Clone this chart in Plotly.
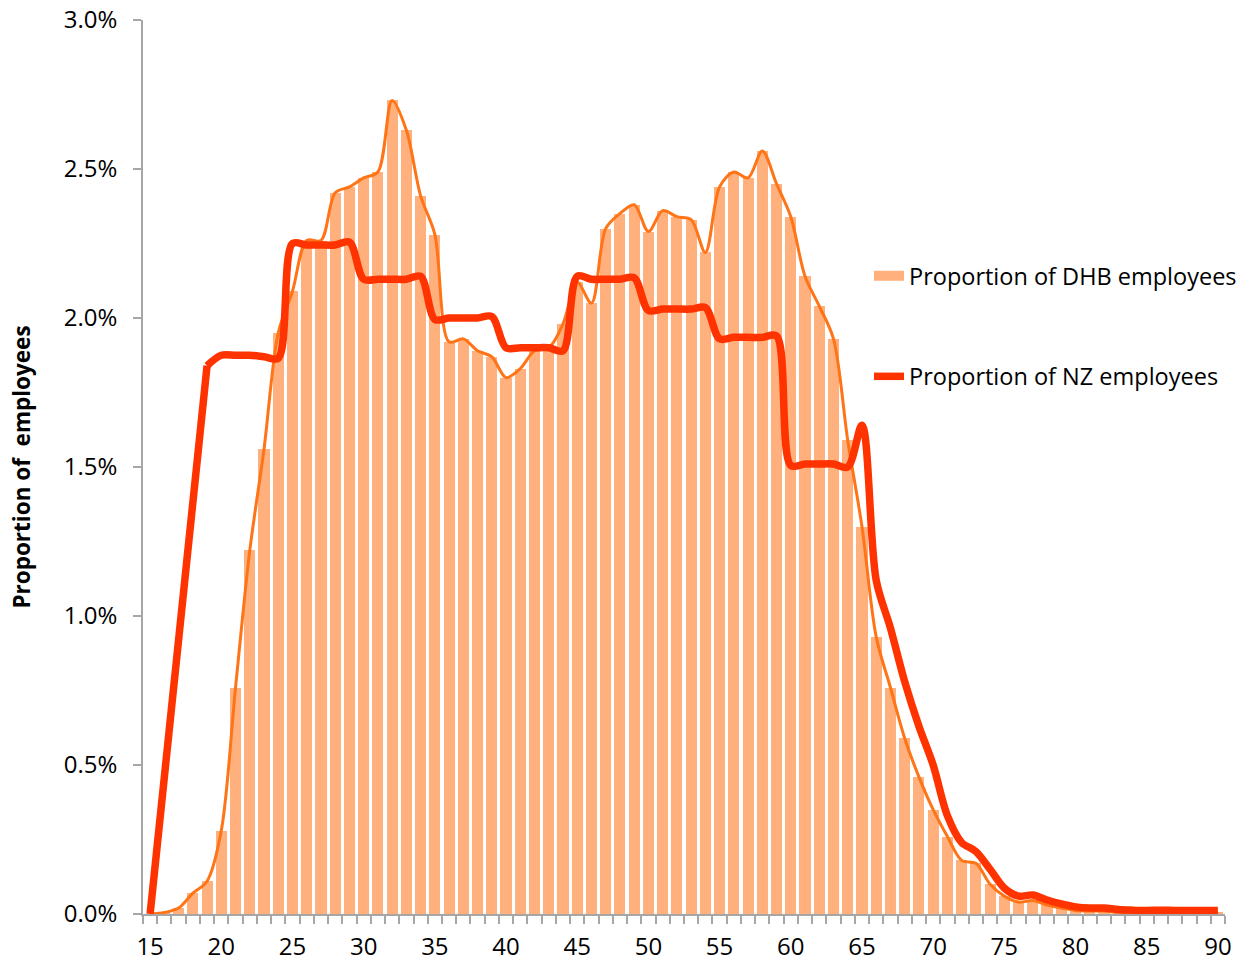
import plotly.graph_objects as go

ages = list(range(15, 91))

dhb_pct = [
    0.0, 0.005, 0.02, 0.07, 0.11, 0.28, 0.76, 1.22, 1.56, 1.95,      # 15-24
    2.09, 2.26, 2.26, 2.42, 2.44, 2.47, 2.49, 2.73, 2.63, 2.41,      # 25-34
    2.28, 1.92, 1.93, 1.89, 1.87, 1.80, 1.83, 1.89, 1.90, 1.98,      # 35-44
    2.12, 2.05, 2.30, 2.35, 2.38, 2.29, 2.36, 2.34, 2.33, 2.22,      # 45-54
    2.44, 2.49, 2.47, 2.56, 2.45, 2.34, 2.14, 2.04, 1.93, 1.59,      # 55-64
    1.30, 0.93, 0.76, 0.59, 0.46, 0.35, 0.26, 0.18, 0.17, 0.10,      # 65-74
    0.06, 0.04, 0.045, 0.03, 0.02, 0.012, 0.01, 0.01, 0.006, 0.005,  # 75-84
    0.005, 0.006, 0.004, 0.004, 0.004, 0.004,                        # 85-90
]

nz_pct = [
    0.0, None, None, None, 1.84, 1.875, 1.875, 1.875, 1.87, 1.865,   # 15-24
    2.25, 2.245, 2.245, 2.245, 2.255, 2.13, 2.13, 2.13, 2.13, 2.14,  # 25-34
    1.995, 2.0, 2.0, 2.0, 2.005, 1.90, 1.90, 1.90, 1.90, 1.89,       # 35-44
    2.14, 2.13, 2.13, 2.13, 2.135, 2.025, 2.03, 2.03, 2.03, 2.035,   # 45-54
    1.93, 1.935, 1.935, 1.935, 1.94, 1.505, 1.51, 1.51, 1.51, 1.50,  # 55-64
    1.64, 1.12, 0.96, 0.78, 0.63, 0.50, 0.33, 0.24, 0.21, 0.15,      # 65-74
    0.087, 0.06, 0.064, 0.047, 0.034, 0.024, 0.02, 0.02, 0.015, 0.013,  # 75-84
    0.012, 0.013, 0.012, 0.012, 0.012, 0.012,                        # 85-90
]

y_ticks = [0.0, 0.5, 1.0, 1.5, 2.0, 2.5, 3.0]
x_ticks = list(range(15, 91, 5))

BAR_COLOR = "#FFB07C"
DHB_LINE = "#FF7417"
NZ_LINE = "#FF3300"
AXIS_COLOR = "#A6A6A6"
FONT = "Open Sans"

# split index: the NZ series has no values for ages 16-18, joined straight
split = ages.index(19)

fig = go.Figure()

fig.add_trace(go.Bar(
    x=ages, y=dhb_pct, width=0.78,
    marker=dict(color=BAR_COLOR, line=dict(width=0)),
    showlegend=False, hoverinfo="x+y",
))

fig.add_trace(go.Scatter(
    x=ages, y=dhb_pct, mode="lines",
    line=dict(color=DHB_LINE, width=3, shape="spline", smoothing=0.9),
    showlegend=False,
))

# NZ: straight join across the missing ages, smoothed elsewhere
fig.add_trace(go.Scatter(
    x=ages[:split + 1], y=nz_pct[:split + 1], mode="lines", connectgaps=True,
    line=dict(color=NZ_LINE, width=7.5, shape="linear"),
    showlegend=False,
))
fig.add_trace(go.Scatter(
    x=ages[split:], y=nz_pct[split:], mode="lines",
    line=dict(color=NZ_LINE, width=7.5, shape="spline", smoothing=0.9),
    showlegend=False,
))

# legend entries
fig.add_trace(go.Scatter(
    x=[None], y=[None], mode="lines", name="Proportion of DHB employees",
    line=dict(color=BAR_COLOR, width=14), legendgroup="a",
))
fig.add_trace(go.Scatter(
    x=[None], y=[None], mode="lines", name="Proportion of NZ employees",
    line=dict(color=NZ_LINE, width=7.5), legendgroup="b",
))

fig.update_layout(
    width=1246, height=962,
    margin=dict(l=143, r=21, t=20, b=48, autoexpand=False),
    paper_bgcolor="white", plot_bgcolor="white",
    font=dict(family=FONT, size=23, color="#000000"),
    bargap=0,
    legend=dict(
        x=(869 - 143) / 1082, y=(914 - 254) / 894,
        xanchor="left", yanchor="top",
        bgcolor="rgba(0,0,0,0)", borderwidth=0,
        font=dict(family=FONT, size=23.5, color="#000000"),
        tracegroupgap=67, itemwidth=30,
    ),
    xaxis=dict(
        range=[14.5, 90.5], automargin=False,
        tickmode="array", tickvals=x_ticks, ticktext=[str(v) for v in x_ticks],
        ticks="", showgrid=False, zeroline=False,
        showline=True, linecolor=AXIS_COLOR, linewidth=1.5,
        ticklabelstandoff=10,
        minor=dict(tick0=14.5, dtick=1, ticks="outside", ticklen=8,
                   tickcolor=AXIS_COLOR, tickwidth=1.5, showgrid=False),
        tickfont=dict(family=FONT, size=24),
    ),
    yaxis=dict(
        range=[0, 3.0], automargin=False,
        tickmode="array", tickvals=y_ticks,
        ticktext=[f"{v:.1f}%" for v in y_ticks],
        ticks="outside", ticklen=8, tickcolor=AXIS_COLOR, tickwidth=1.5,
        showgrid=False, zeroline=False,
        showline=True, linecolor=AXIS_COLOR, linewidth=1.5,
        ticklabelstandoff=11,
        tickfont=dict(family=FONT, size=24),
        title=dict(text="<b>Proportion of\u00a0 employees</b>",
                   font=dict(family=FONT, size=22.5), standoff=27),
    ),
)

fig.write_html("out.html", config={"displayModeBar": False},
               post_script="document.body.style.margin='0';")
